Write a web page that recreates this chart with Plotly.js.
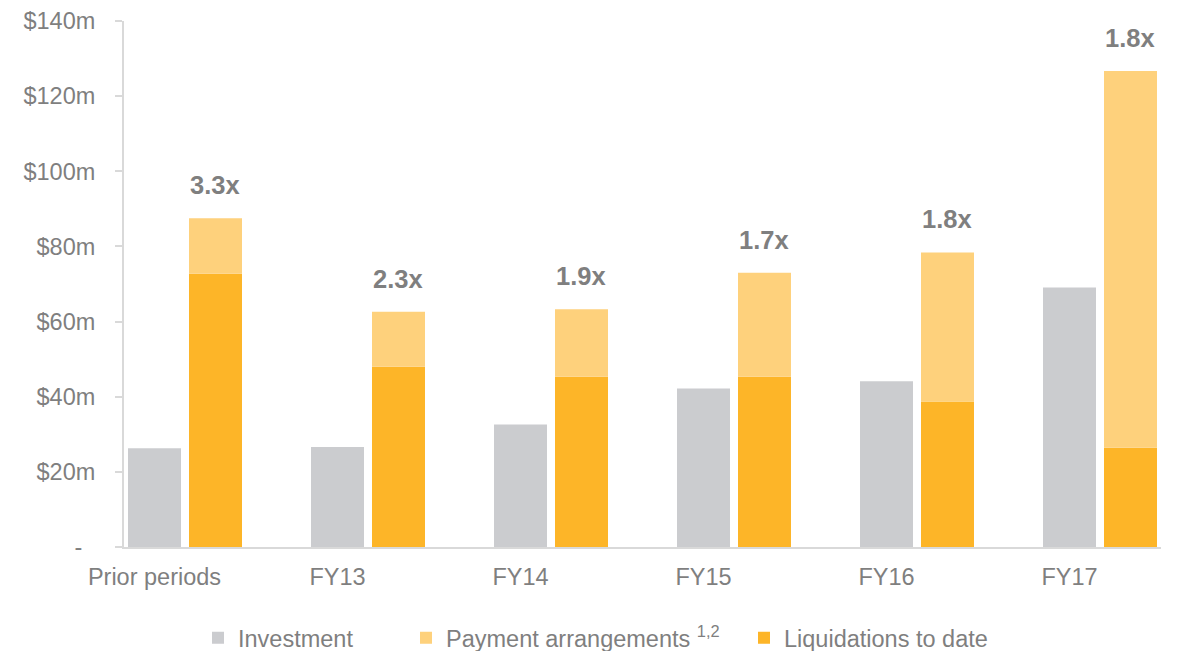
<!DOCTYPE html>
<html>
<head>
<meta charset="utf-8">
<script src="https://cdn.plot.ly/plotly-3.0.1.min.js"></script>
<style>
  html, body { margin: 0; padding: 0; background: #ffffff; }
  #chart { width: 1191px; height: 651px; }
</style>
</head>
<body>
<div id="chart"></div>
<script>
// ---- Data (US$ millions) ----
const categories = ['Prior periods', 'FY13', 'FY14', 'FY15', 'FY16', 'FY17'];
const investment = [26.3, 26.6, 32.6, 42.2, 44.1, 69.1];
const liquidations = [72.7, 48.0, 45.3, 45.3, 38.7, 26.4];
const paymentArrangements = [14.8, 14.6, 18.0, 27.7, 39.7, 100.3];
const multiples = ['3.3x', '2.3x', '1.9x', '1.7x', '1.8x', '1.8x'];
const yTickVals = [0, 20, 40, 60, 80, 100, 120, 140];
const yTickText = ['-\u00a0\u00a0', '$20m', '$40m', '$60m', '$80m', '$100m', '$120m', '$140m'];
const seriesNames = ['Investment', 'Payment arrangements <sup>1,2</sup>', 'Liquidations to date'];

// ---- Styles ----
const FONT = 'Liberation Sans, Arial, sans-serif';
const TEXT_GREY = '#7f7f7f';
const C_INV = '#cbcccf';
const C_PAY = '#fed17c';
const C_LIQ = '#fdb528';
const BAR_W = 0.2896;

const totals = liquidations.map((v, i) => v + paymentArrangements[i]);

const traces = [
  {
    type: 'bar', name: seriesNames[0], x: categories, y: investment,
    offset: -BAR_W / 2, width: BAR_W,
    marker: { color: C_INV, line: { width: 0 } },
    legend: 'legend', hoverinfo: 'x+y'
  },
  {
    type: 'bar', name: seriesNames[2], x: categories, y: liquidations,
    offset: 0.1885, width: BAR_W,
    marker: { color: C_LIQ, line: { width: 0 } },
    legend: 'legend3', hoverinfo: 'x+y'
  },
  {
    type: 'bar', name: seriesNames[1], x: categories, y: paymentArrangements,
    base: liquidations,
    offset: 0.1885, width: BAR_W,
    marker: { color: C_PAY, line: { width: 0 } },
    legend: 'legend2', hoverinfo: 'x+y'
  }
];

const annotations = categories.map((c, i) => ({
  x: c, y: totals[i], xref: 'x', yref: 'y',
  text: multiples[i], showarrow: false,
  xanchor: 'center', yanchor: 'middle',
  xshift: 60, yshift: 33,
  font: { family: FONT, size: 25.5, color: TEXT_GREY, weight: 'bold' }
}));

const legendBase = {
  orientation: 'h', xref: 'container', yref: 'container',
  xanchor: 'left', yanchor: 'middle', y: 0.02,
  font: { family: FONT, size: 23.5, color: TEXT_GREY },
  bgcolor: 'rgba(0,0,0,0)', borderwidth: 0
};

const layout = {
  width: 1191, height: 651,
  margin: { l: 124, r: 30, t: 21, b: 104, pad: 0 },
  paper_bgcolor: '#ffffff', plot_bgcolor: '#ffffff',
  barmode: 'overlay',
  showlegend: true,
  font: { family: FONT, size: 23.5, color: TEXT_GREY },
  xaxis: {
    type: 'category',
    range: [-0.1667, 5.5],
    showgrid: false, zeroline: false,
    showline: true, linecolor: '#d9d9d9', linewidth: 2,
    ticks: '', ticklabelstandoff: 8,
    tickfont: { family: FONT, size: 23.5, color: TEXT_GREY },
    fixedrange: true
  },
  yaxis: {
    range: [0, 140],
    tickvals: yTickVals, ticktext: yTickText,
    showgrid: false, zeroline: false,
    showline: true, linecolor: '#d9d9d9', linewidth: 2,
    ticks: 'outside', ticklen: 7, tickwidth: 2, tickcolor: '#d9d9d9',
    ticklabelstandoff: 15,
    tickfont: { family: FONT, size: 23.5, color: TEXT_GREY },
    fixedrange: true
  },
  legend: Object.assign({}, legendBase, { x: 198 / 1191 }),
  legend2: Object.assign({}, legendBase, { x: 406 / 1191 }),
  legend3: Object.assign({}, legendBase, { x: 744 / 1191 }),
  annotations: annotations
};

Plotly.newPlot('chart', traces, layout, { displayModeBar: false, staticPlot: true });
</script>
</body>
</html>
